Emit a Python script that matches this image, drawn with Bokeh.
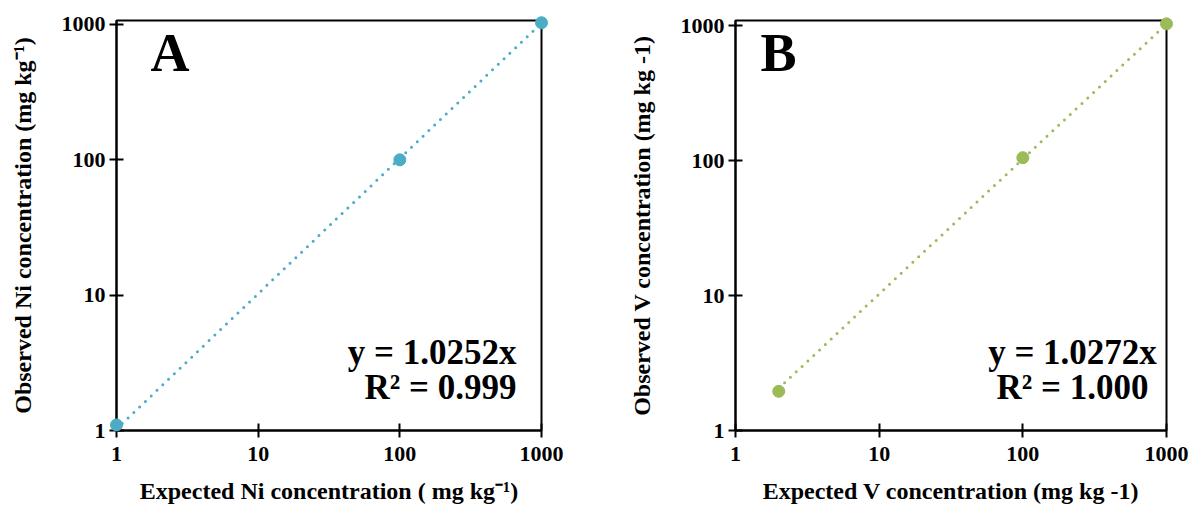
from bokeh.plotting import figure
from bokeh.layouts import row
from bokeh.models import Range1d, FixedTicker, NumeralTickFormatter, Label
from bokeh.embed import file_html
from bokeh.resources import INLINE

# ---- data ----
ticks = [1, 10, 100, 1000]

ni_expected = [1, 100, 1000]
ni_observed = [1.1, 100, 1030]
ni_slope = 1.0252
ni_r2 = 0.999
ni_trend_x = [1, 1000]

v_expected = [2, 100, 1000]
v_observed = [1.95, 105, 1030]
v_slope = 1.0272
v_r2 = 1.000
v_trend_x = [2, 1000]

FONT = "Liberation Serif"


def make_panel(letter, xs, ys, slope, r2, trend_x, color, xlabel, ylabel,
               left, right, y_top, eq_align, eq_x, letter_x):
    W, H = 597, 506
    top, bottom = 20, 76
    p = figure(width=W, height=H, x_axis_type="log", y_axis_type="log",
               x_range=Range1d(1, 1000), y_range=Range1d(1, y_top),
               output_backend="svg", toolbar_location=None,
               min_border_left=left, min_border_right=right,
               min_border_top=top, min_border_bottom=bottom)
    p.background_fill_color = "white"
    p.border_fill_color = "white"
    p.outline_line_color = "black"
    p.outline_line_width = 2
    p.xgrid.grid_line_color = None
    p.ygrid.grid_line_color = None

    for ax in (p.xaxis[0], p.yaxis[0]):
        ax.ticker = FixedTicker(ticks=ticks, minor_ticks=[])
        ax.formatter = NumeralTickFormatter(format="0")
        ax.axis_line_color = "black"
        ax.axis_line_width = 2
        ax.major_tick_line_color = "black"
        ax.major_tick_line_width = 2
        ax.major_tick_in = 7
        ax.major_tick_out = 7
        ax.minor_tick_line_color = None
        ax.major_label_text_font = FONT
        ax.major_label_text_font_style = "bold"
        ax.major_label_text_font_size = "22px"
        ax.major_label_text_color = "black"
        ax.axis_label_text_font = FONT
        ax.axis_label_text_font_style = "bold"
        ax.axis_label_text_font_size = "24px"
        ax.axis_label_text_color = "black"

    p.xaxis[0].axis_label = xlabel
    p.yaxis[0].axis_label = ylabel
    p.xaxis[0].major_label_standoff = 9
    p.xaxis[0].axis_label_standoff = 14
    p.yaxis[0].major_label_standoff = 4
    p.yaxis[0].axis_label_standoff = 23

    trend_y = [slope * x for x in trend_x]
    p.line(trend_x, trend_y, line_color=color, line_width=3,
           line_dash="0 8", line_cap="round")
    p.scatter(xs, ys, size=12, fill_color=color, line_color=color,
              level="overlay")

    p.add_layout(Label(x=letter_x, y=348, x_units="screen", y_units="screen",
                       text=letter, text_font=FONT, text_font_style="bold",
                       text_font_size="54px", text_color="black"))
    p.add_layout(Label(x=eq_x, y=59, x_units="screen", y_units="screen",
                       text=f"y = {slope:.4f}x", text_align=eq_align,
                       text_font=FONT, text_font_style="bold",
                       text_font_size="35px", text_color="black"))
    p.add_layout(Label(x=eq_x, y=24, x_units="screen", y_units="screen",
                       text=f"R\u00b2 = {r2:.3f}", text_align=eq_align,
                       text_font=FONT, text_font_style="bold",
                       text_font_size="35px", text_color="black"))
    return p


pA = make_panel("A", ni_expected, ni_observed, ni_slope, ni_r2, ni_trend_x,
                "#4BACC6",
                "Expected Ni concentration ( mg kg\u207b\u00b9)",
                "Observed Ni concentration (mg kg\u207b\u00b9)",
                left=116, right=56, y_top=1070, eq_align="right", eq_x=400,
                letter_x=34)
pB = make_panel("B", v_expected, v_observed, v_slope, v_r2, v_trend_x,
                "#9BBB59",
                "Expected V concentration (mg kg -1)",
                "Observed V concentration (mg kg -1)",
                left=138, right=28, y_top=1090, eq_align="center", eq_x=337,
                letter_x=25)

layout = row(pA, pB)
open("out.html", "w").write(file_html(layout, INLINE))
